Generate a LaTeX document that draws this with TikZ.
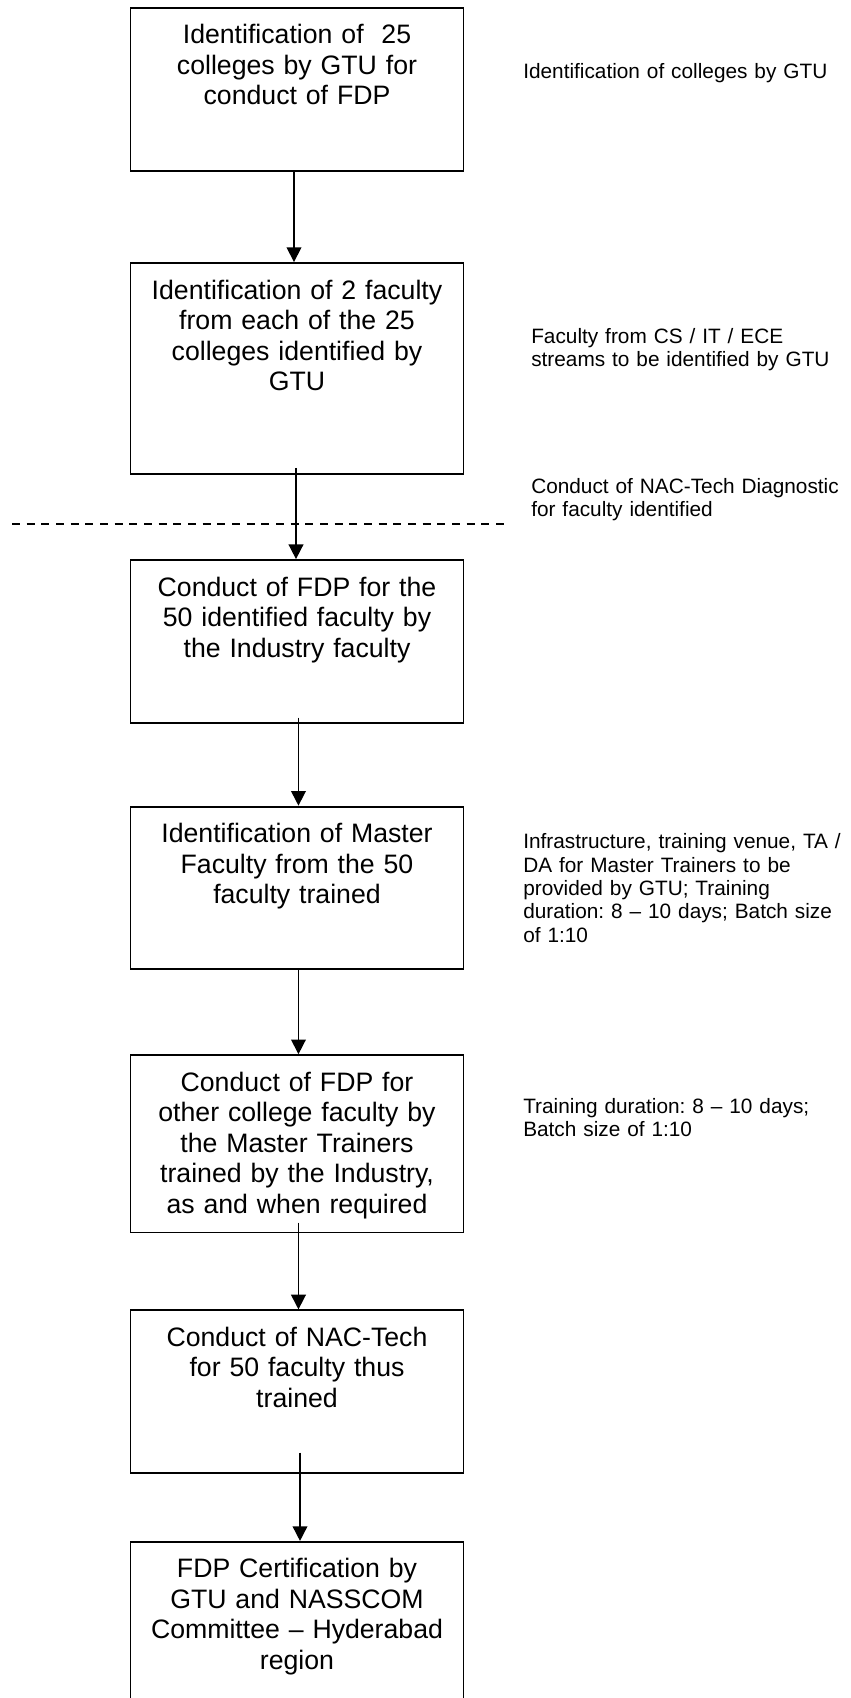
\documentclass[tikz,border=0pt]{standalone}
\usepackage{fontspec}
\setmainfont{Liberation Sans}
\frenchspacing
\usetikzlibrary{positioning,arrows.meta}

\begin{document}
\begin{tikzpicture}[
    stepbox/.style={draw, line width=1.4pt, text width=237.75pt, inner xsep=6pt,
      inner ysep=12pt, text height=15pt, text depth=#1, align=center,
      font=\fontsize{20pt}{22.9pt}\selectfont},
    note/.style={anchor=base west, text width=330pt, align=left, inner sep=0pt,
      font=\fontsize{15.6pt}{17.6pt}\selectfont},
    flow/.style={-{Triangle[length=11pt,width=11pt]}, line width=1.2pt},
    cut/.style={line width=1.2pt, dash pattern=on 6pt off 5pt},
  ]
  \useasboundingbox (0,0) rectangle (637.5pt,-1273.5pt);
  \clip (0,0) rectangle (637.5pt,-1273.5pt);

  \node (coll) [stepbox=83.25pt, anchor=north] at (222.75pt,-5pt)
    {Identification of\ \ 25\\ colleges by GTU for\\ conduct of FDP};
  \node (fac) [stepbox=119pt, below=67.9pt of coll]
    {Identification of 2 faculty\\ from each of the 25\\ colleges identified by\\ GTU};
  \node (fdp) [stepbox=83pt, below=63.4pt of fac]
    {Conduct of FDP for the\\ 50 identified faculty by\\ the Industry faculty};
  \node (master) [stepbox=83pt, below=61.5pt of fdp]
    {Identification of Master\\ Faculty from the 50\\ faculty trained};
  \node (other) [stepbox=94pt, below=63pt of master]
    {Conduct of FDP for\\ other college faculty by\\ the Master Trainers\\ trained by the Industry,\\ as and when required};
  \node (nac) [stepbox=83pt, below=57pt of other]
    {Conduct of NAC-Tech\\ for 50 faculty thus\\ trained};
  \node (cert) [stepbox=125pt, below=50.25pt of nac]
    {FDP Certification by\\ GTU and NASSCOM\\ Committee – Hyderabad\\ region};

  % notes on the right
  \node (ncoll) [note] at (392.25pt,-58.7pt) {Identification of colleges by GTU};
  \node (nfac) [note] at (398.25pt,-257.25pt)
    {Faculty from CS / IT / ECE\\ streams to be identified by GTU};
  \node (ndiag) [note] at (398.25pt,-369.75pt)
    {Conduct of NAC-Tech Diagnostic\\ for faculty identified};
  \node (nmaster) [note] at (392.25pt,-636.4pt)
    {Infrastructure, training venue, TA /\\ DA for Master Trainers to be\\ provided by GTU; Training\\ duration: 8 – 10 days; Batch size\\ of 1:10};
  \node (nother) [note] at (392.25pt,-834.75pt)
    {Training duration: 8 – 10 days;\\ Batch size of 1:10};

  % diagnostic cut
  \coordinate (cutL) at (9pt,-393pt);
  \coordinate (cutR) at (382.5pt,-393pt);
  \draw[cut] (cutL) -- (cutR);

  \draw[flow] ([xshift=-2.25pt]coll.south) -- ([xshift=-2.25pt]fac.north);
  \draw[flow] ([xshift=-0.75pt,yshift=5pt]fac.south) -- ([xshift=-0.75pt]fdp.north);
  \draw[flow] ([xshift=1.1pt,yshift=4.5pt]fdp.south) -- ([xshift=1.1pt]master.north);
  \draw[flow] ([xshift=1.1pt]master.south) -- ([xshift=1.1pt]other.north);
  \draw[flow] ([xshift=1.1pt,yshift=8pt]other.south) -- ([xshift=1.1pt]nac.north);
  \draw[flow] ([xshift=2.25pt,yshift=16pt]nac.south) -- ([xshift=2.25pt]cert.north);
\end{tikzpicture}
\end{document}
